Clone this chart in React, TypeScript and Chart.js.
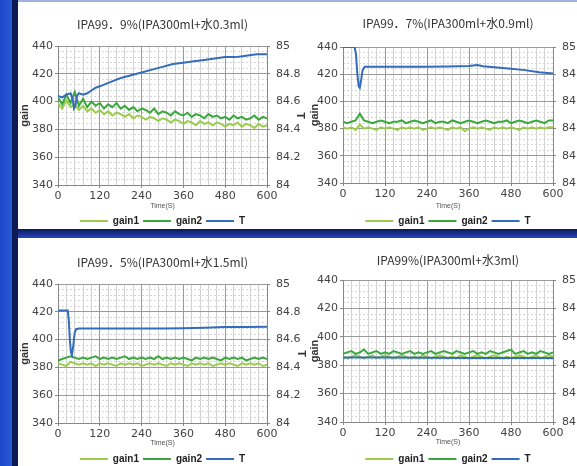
import React, { useEffect, useRef } from 'react';
import { Chart, registerables } from 'chart.js';
Chart.register(...registerables);

const TIMES = [0, 12, 24, 36, 48, 60, 72, 84, 96, 108, 120, 132, 144, 156, 168, 180, 192, 204, 216, 228, 240, 252, 264, 276, 288, 300, 312, 324, 336, 348, 360, 372, 384, 396, 408, 420, 432, 444, 456, 468, 480, 492, 504, 516, 528, 540, 552, 564, 576, 588, 600];
const X_LABELS = [0, 120, 240, 360, 480, 600];
const GAIN_TICKS = [340, 360, 380, 400, 420, 440];
const T_TICKS = ['84', '84.2', '84.4', '84.6', '84.8', '85'];
const LEGEND = ['gain1', 'gain2', 'T'];

const C1_GAIN1 = [399, 395, 401, 396, 398, 394, 397, 393, 395, 392, 394, 391, 393, 390, 392, 391, 389, 391, 388, 390, 389, 387, 389, 388, 386, 388, 387, 385, 387, 386, 384, 386, 385, 383, 386, 384, 385, 383, 385, 384, 382, 384, 383, 385, 382, 384, 383, 381, 384, 382, 383];
const C1_GAIN2 = [403, 398, 405, 399, 407, 397, 402, 396, 400, 397, 399, 395, 398, 396, 399, 395, 397, 394, 396, 393, 395, 394, 392, 395, 391, 393, 392, 390, 393, 391, 390, 392, 389, 391, 390, 388, 391, 389, 390, 388, 389, 387, 390, 388, 389, 387, 388, 390, 387, 389, 388];
const C1_T_TIME = [0, 12, 24, 36, 42, 46, 50, 54, 60, 72, 84, 96, 108, 120, 150, 180, 210, 240, 270, 300, 330, 360, 390, 420, 450, 480, 510, 540, 570, 600];
const C1_T = [84.64, 84.63, 84.65, 84.66, 84.62, 84.55, 84.57, 84.64, 84.66, 84.65, 84.66, 84.68, 84.70, 84.71, 84.74, 84.77, 84.79, 84.81, 84.83, 84.85, 84.87, 84.88, 84.89, 84.90, 84.91, 84.92, 84.92, 84.93, 84.94, 84.94];

const C2_GAIN1 = [381, 380, 381, 379, 383, 380, 381, 380, 379, 381, 380, 381, 380, 379, 381, 380, 381, 380, 381, 379, 380, 381, 380, 381, 380, 379, 381, 380, 381, 378, 380, 381, 380, 381, 380, 379, 381, 380, 381, 380, 381, 380, 379, 381, 380, 381, 380, 381, 380, 381, 381];
const C2_GAIN2 = [385, 384, 385, 386, 391, 386, 385, 384, 385, 386, 385, 384, 385, 385, 386, 384, 385, 386, 385, 384, 385, 386, 384, 385, 385, 384, 386, 385, 384, 385, 386, 385, 384, 385, 386, 385, 384, 385, 385, 386, 384, 385, 386, 385, 384, 385, 386, 385, 384, 386, 386];
const C2_T_TIME = [0, 33, 37, 41, 45, 48, 52, 56, 62, 120, 180, 240, 300, 360, 384, 400, 440, 480, 520, 560, 600];
const C2_T = [85.0, 85.0, 84.95, 84.80, 84.71, 84.70, 84.76, 84.83, 84.855, 84.855, 84.855, 84.855, 84.857, 84.86, 84.868, 84.858, 84.85, 84.84, 84.83, 84.815, 84.805];

const C3_GAIN1 = [383, 382, 381, 384, 383, 382, 383, 382, 383, 381, 383, 382, 383, 382, 381, 383, 382, 383, 382, 383, 381, 382, 383, 382, 383, 382, 381, 383, 382, 383, 382, 381, 383, 382, 383, 382, 383, 381, 382, 383, 382, 383, 382, 381, 383, 382, 383, 382, 383, 381, 382];
const C3_GAIN2 = [385, 386, 387, 388, 387, 386, 387, 386, 387, 388, 386, 387, 386, 387, 386, 387, 388, 386, 387, 386, 387, 386, 387, 386, 388, 386, 387, 386, 387, 386, 387, 386, 385, 387, 386, 387, 386, 387, 386, 385, 387, 386, 387, 386, 387, 385, 386, 387, 386, 387, 386];
const C3_T_TIME = [0, 28, 31, 34, 37, 40, 44, 48, 52, 60, 120, 180, 240, 300, 360, 420, 480, 540, 600];
const C3_T = [84.81, 84.81, 84.74, 84.60, 84.51, 84.49, 84.56, 84.65, 84.675, 84.68, 84.68, 84.68, 84.68, 84.68, 84.682, 84.685, 84.69, 84.69, 84.692];

const C4_GAIN1 = [386, 385, 386, 387, 386, 385, 386, 387, 385, 386, 387, 386, 385, 386, 387, 386, 385, 386, 385, 387, 386, 385, 386, 387, 386, 385, 386, 385, 387, 386, 385, 386, 387, 386, 385, 386, 387, 386, 385, 386, 385, 386, 387, 386, 385, 386, 387, 385, 386, 387, 386];
const C4_GAIN2 = [388, 389, 390, 388, 389, 391, 388, 389, 390, 388, 389, 388, 390, 389, 388, 389, 390, 388, 389, 388, 389, 390, 388, 389, 390, 389, 388, 390, 389, 388, 389, 390, 388, 389, 388, 390, 389, 388, 389, 390, 391, 388, 389, 390, 388, 389, 388, 390, 389, 388, 389];
const C4_T_TIME = [0, 120, 240, 360, 480, 600];
const C4_T = [84.455, 84.455, 84.452, 84.45, 84.45, 84.45];

const TITLES = [
  'IPA99．9%(IPA300ml+水0.3ml)',
  'IPA99．7%(IPA300ml+水0.9ml)',
  'IPA99．5%(IPA300ml+水1.5ml)',
  'IPA99%(IPA300ml+水3ml)',
];

type Cfg = {
  title: string; g1: number[]; g2: number[]; tT: number[]; tV: number[];
  plotL: number; plotR: number; plotT: number; plotB: number;
  titleY: number; legendY: number; timeY: number; gainX: number; tX: number;
};

const PANELS: Cfg[] = [
  { title: TITLES[0], g1: C1_GAIN1, g2: C1_GAIN2, tT: C1_T_TIME, tV: C1_T, plotL: 58, plotR: 267, plotT: 46, plotB: 185, titleY: 24, legendY: 221, timeY: 206, gainX: 25, tX: 300 },
  { title: TITLES[1], g1: C2_GAIN1, g2: C2_GAIN2, tT: C2_T_TIME, tV: C2_T, plotL: 343, plotR: 553, plotT: 47, plotB: 183, titleY: 23, legendY: 221, timeY: 206, gainX: 315, tX: 586 },
  { title: TITLES[2], g1: C3_GAIN1, g2: C3_GAIN2, tT: C3_T_TIME, tV: C3_T, plotL: 58, plotR: 267, plotT: 284, plotB: 423, titleY: 262, legendY: 459, timeY: 443, gainX: 25, tX: 301 },
  { title: TITLES[3], g1: C4_GAIN1, g2: C4_GAIN2, tT: C4_T_TIME, tV: C4_T, plotL: 343, plotR: 553, plotT: 280, plotB: 422, titleY: 260, legendY: 459, timeY: 442, gainX: 315, tX: 586 },
];

const GAIN1_COLOR = '#9ccc4c';
const GAIN2_COLOR = '#3aa83c';
const T_COLOR = '#336cb8';
const TICK_FONT = { family: '"DejaVu Sans", sans-serif', size: 11 };
const TICK_COLOR = '#444';

function Panel({ cfg }: { cfg: Cfg }) {
  const ref = useRef<HTMLCanvasElement>(null);
  const AL = 40, AR = 40, TB = 44;
  const left = cfg.plotL - AL;
  const width = AL + (cfg.plotR - cfg.plotL) + AR;
  const top = cfg.plotT - TB;
  const LEG_P = 4, LEG_FONT = 10;
  const legTop = cfg.legendY - (LEG_P + LEG_FONT / 2);
  const legH = LEG_FONT + LEG_P + 10;
  const height = Math.round(legTop + legH - top);
  const xAxisH = legTop - cfg.plotB;
  const titleLH = 12 * 1.2;
  const titlePT = cfg.titleY - top - titleLH / 2;
  const titlePB = TB - titleLH - titlePT;
  const timeLH = 7 * 1.2;
  const timePB = legTop - timeLH / 2 - cfg.timeY;
  const gainPT = cfg.gainX - left - 6.6;
  const tPT = left + width - cfg.tX - 6.6;

  useEffect(() => {
    const g1 = TIMES.map((t, i) => ({ x: t, y: cfg.g1[i] }));
    const g2 = TIMES.map((t, i) => ({ x: t, y: cfg.g2[i] }));
    const tt = cfg.tT.map((t, i) => ({ x: t, y: cfg.tV[i] }));
    const defGen = (Chart.defaults as any).plugins.legend.labels.generateLabels;
    const chart = new Chart(ref.current as HTMLCanvasElement, {
      type: 'line',
      data: {
        datasets: [
          { label: LEGEND[0], data: g1, borderColor: GAIN1_COLOR, backgroundColor: GAIN1_COLOR, borderWidth: 2, pointRadius: 0, yAxisID: 'y', order: 3 },
          { label: LEGEND[1], data: g2, borderColor: GAIN2_COLOR, backgroundColor: GAIN2_COLOR, borderWidth: 2, pointRadius: 0, yAxisID: 'y', order: 2 },
          { label: LEGEND[2], data: tt, borderColor: T_COLOR, backgroundColor: T_COLOR, borderWidth: 2, pointRadius: 0, yAxisID: 'y1', order: 1 },
        ],
      },
      options: {
        animation: false,
        responsive: false,
        events: [],
        layout: { padding: 0 },
        plugins: {
          tooltip: { enabled: false },
          title: {
            display: true, text: cfg.title, color: '#333',
            font: { family: '"Noto Sans CJK JP", sans-serif', size: 12, weight: 'normal' },
            padding: { top: titlePT, bottom: titlePB },
          },
          legend: {
            display: true, position: 'bottom',
            labels: {
              boxWidth: 28, boxHeight: 2, padding: LEG_P, color: '#222',
              font: { family: '"Liberation Sans", Arial, sans-serif', size: LEG_FONT, weight: 'bold' },
              sort: (a: any, b: any) => a.datasetIndex - b.datasetIndex,
              generateLabels: (c: any) => defGen(c).map((l: any) => ({ ...l, lineWidth: 0, fillStyle: l.strokeStyle })),
            },
          },
        },
        scales: {
          x: {
            type: 'linear', min: 0, max: 600,
            afterFit: (s: any) => { s.height = xAxisH; },
            ticks: {
              stepSize: 24, autoSkip: false, maxRotation: 0, padding: 1.5,
              color: TICK_COLOR, font: TICK_FONT,
              callback: (v: any) => (X_LABELS.includes(Number(v)) ? String(v) : ''),
            },
            grid: {
              color: (c: any) => (c.tick && c.tick.value % 120 === 0 ? '#9a9a9a' : '#d2d2d2'),
              tickColor: (c: any) => (c.tick && c.tick.value % 120 === 0 ? '#888' : 'rgba(0,0,0,0)'),
              tickLength: 3, z: -1,
            },
            border: { color: '#888' },
            title: {
              display: true, text: 'Time(S)', color: '#555',
              font: { family: '"Liberation Sans", Arial, sans-serif', size: 7 },
              padding: { top: 0, bottom: timePB },
            },
          },
          yMinor: {
            type: 'linear', position: 'left', min: 340, max: 440,
            afterFit: (s: any) => { s.width = 0; },
            ticks: { display: false, stepSize: 4 },
            grid: { color: '#d6d6d6', drawTicks: false, z: -2 },
            border: { display: false, dash: [2, 2] },
          },
          y: {
            type: 'linear', position: 'left', min: 340, max: 440,
            afterFit: (s: any) => { s.width = AL; },
            ticks: {
              stepSize: 20, padding: 2, color: TICK_COLOR, font: TICK_FONT,
              callback: (v: any) => (GAIN_TICKS.includes(Number(v)) ? String(v) : ''),
            },
            grid: { color: '#9a9a9a', tickColor: '#888', tickLength: 3, z: -1 },
            border: { color: '#888' },
            title: {
              display: true, text: 'gain', color: '#333',
              font: { family: '"Liberation Sans", Arial, sans-serif', size: 11, weight: 'bold' },
              padding: { top: gainPT, bottom: 0 },
            },
          },
          y1: {
            type: 'linear', position: 'right', min: 84, max: 85,
            afterFit: (s: any) => { s.width = AR; },
            ticks: {
              stepSize: 0.2, padding: 6, color: TICK_COLOR, font: TICK_FONT,
              callback: (v: any) => T_TICKS[Math.round((Number(v) - 84) / 0.2)] ?? '',
            },
            grid: { drawOnChartArea: false, tickColor: '#888', tickLength: 3 },
            border: { color: '#888' },
            title: {
              display: true, text: 'T', color: '#333',
              font: { family: '"Liberation Sans", Arial, sans-serif', size: 11, weight: 'bold' },
              padding: { top: tPT, bottom: 0 },
            },
          },
        },
      } as any,
    });
    return () => chart.destroy();
  }, []);

  return (
    <canvas
      ref={ref}
      width={width}
      height={height}
      style={{ position: 'absolute', left, top, width, height, display: 'block' }}
    />
  );
}

export default function App() {
  return (
    <div style={{ position: 'fixed', left: 0, top: 0, width: 577, height: 466, overflow: 'hidden', background: '#ffffff' }}>
      <div style={{ position: 'absolute', left: 0, top: 0, width: 577, height: 2, background: '#9fb3dd' }} />
      <div style={{ position: 'absolute', left: 0, top: 229, width: 577, height: 9, background: 'linear-gradient(#0c1855, #1b3596 60%, #2447b8)' }} />
      <div style={{ position: 'absolute', left: 0, top: 0, width: 12, height: 466, background: 'linear-gradient(to right, #1a48c8, #2a5ad6)' }} />
      <div style={{ position: 'absolute', left: 12, top: 0, width: 6, height: 466, background: '#0d1a55' }} />
      {PANELS.map((p, i) => (
        <Panel key={i} cfg={p} />
      ))}
    </div>
  );
}
